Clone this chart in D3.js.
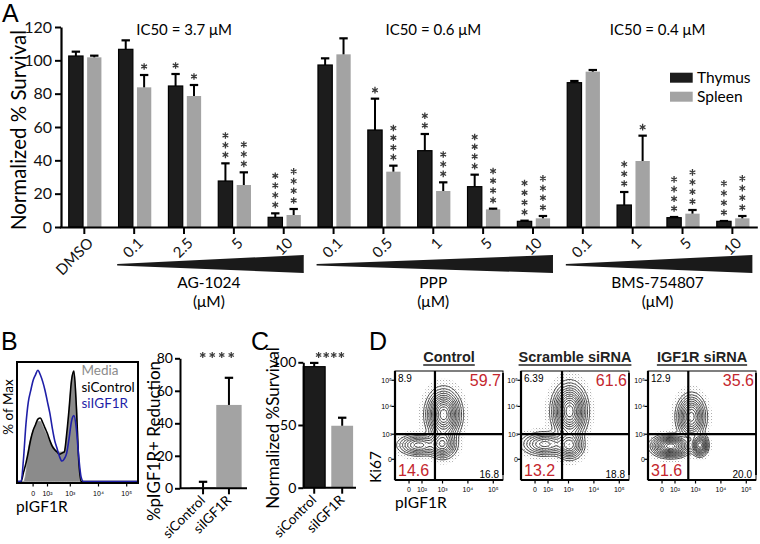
<!DOCTYPE html>
<html><head><meta charset="utf-8">
<script src="https://cdn.jsdelivr.net/npm/d3@7"></script>
<style>
body{margin:0;background:#fff}
svg{display:block}
text{font-family:Lato,'Open Sans',sans-serif}
</style>
</head><body>
<svg id="fig" width="760" height="544" xmlns="http://www.w3.org/2000/svg"></svg>
<script>
// ---------------- Panel A data ----------------
const categories = ["DMSO","AG 0.1","AG 2.5","AG 5","AG 10","PPP 0.1","PPP 0.5","PPP 1","PPP 5","PPP 10","BMS 0.1","BMS 1","BMS 5","BMS 10"];
const tickLabels = ["DMSO","0.1","2.5","5","10","0.1","0.5","1","5","10","0.1","1","5","10"];
const thymus    = [102.6,106.6,84.6,27.6,5.8,97.2,58.2,45.8,24.2,3.4,86.6,13.2,5.6,3.4];
const thymusSem = [2.6,5.4,7.2,10.6,2.4,4.0,18.8,10.0,7.2,0.4,1.0,7.8,0.4,0.2];
const spleen    = [101.8,83.8,78.6,25.2,7.2,103.6,33.2,21.6,10.6,5.2,93.2,39.6,8.0,5.2];
const spleenSem = [1.0,7.4,6.6,7.6,3.6,9.6,3.6,5.2,0.4,1.4,1.0,15.2,2.2,1.4];
const thymusStars = [0,0,1,3,4,0,1,2,4,4,0,3,4,4];
const spleenStars = [0,1,1,3,4,0,4,3,4,4,0,1,4,4];
const seriesNames = ["Thymus","Spleen"];
const yTicksA = [0,20,40,60,80,100,120];
const groupNames = ["AG-1024","PPP","BMS-754807"];
const groupFirst = ["AG 0.1","PPP 0.1","BMS 0.1"];
const groupLast  = ["AG 10","PPP 10","BMS 10"];
const ic50Labels = ["IC50 = 3.7 \u03bcM","IC50 = 0.6 \u03bcM","IC50 = 0.4 \u03bcM"];
const ic50Anchor = [["AG 2.5","AG 2.5"],["PPP 0.5","PPP 5"],["BMS 1","BMS 5"]];

// ---------------- Panel B data ----------------
const histX        = [0,3,5,7,9,11,13,15,17,19,21,23,25,27,29,31,33,35,37,39,41,43,45,47,49,51,53,55,100];
const histMedia    = [0,0,0,8,28,38,45,50,53,53,49,44,40,35,32,29,27,26,26,27,40,64,89,98,70,22,2,0,0];
const histSiCtrl   = [0,0,8,16,26,37,45,50,55,56,52,47,42,36,31,28,26,24,25,26,42,64,89,97,67,19,0,0,0];
const histSiIGF1R  = [0,0,20,50,70,80,89,94,98,94,88,80,70,60,47,36,29,22,18,20,25,38,53,58,47,22,4,0,0];
const histLegend   = ["Media","siControl","siIGF1R"];
const flowTickLabels = ["0","10\u00b2","10\u00b3","10\u2074","10\u2075"];
const flowTickPos    = [13,25,44,67.5,91];
const bCats = ["siControl","siIGF1R"];
const bVals = [0.5,51.3];
const bSem  = [3.5,16.7];
const bTicks = [0,20,40,60,80];
const bStars = 4;

// ---------------- Panel C data ----------------
const cCats = ["siControl","siIGF1R"];
const cVals = [96.5,49.4];
const cSem  = [3.0,6.4];
const cTicks = [0,50,100];
const cStars = 4;

// ---------------- Panel D data ----------------
const dTitles = ["Control","Scramble siRNA","IGF1R siRNA"];
const dQuadUL = ["8.9","6.39","12.9"];
const dQuadUR = ["59.7","61.6","35.6"];
const dQuadLL = ["14.6","13.2","31.6"];
const dQuadLR = ["16.8","18.8","20.0"];
const dGateX = [37,38,37.3];
const dGateY = [42,42,42];
// populations: [centre pIGF1R, centre Ki67, spread x, spread y, weight] (display units 0-100)
const dControlPops  = [[45,60,7,10,1.0],[44,33,6,6,0.55],[22,32,9,4.5,0.4]];
const dScramblePops = [[45,63,7,11,1.0],[45,32,6,6,0.5],[22,33,10,5,0.4]];
const dIGF1RPops    = [[40,58,6,9,0.8],[21,31,8,4.5,1.1],[48,32,3.5,4.5,0.8]];
const dYTickLabels = ["0","10\u00b3","10\u2074","10\u2075"];
const dYTickPos    = [19,42,67.5,91.5];

// ======================================================
const svg = d3.select("#fig");
const ARIAL = "'Liberation Sans',Arial,sans-serif";
const defs = svg.append("defs");
const pat = defs.append("pattern").attr("id","dots").attr("width",3).attr("height",3)
  .attr("patternUnits","userSpaceOnUse");
pat.append("rect").attr("x",0).attr("y",0).attr("width",0.9).attr("height",0.9).attr("fill","#9a9a9a");
pat.append("rect").attr("x",1.5).attr("y",1.5).attr("width",0.7).attr("height",0.7).attr("fill","#c4c4c4");

function panelLetter(t,x,y){
  svg.append("text").attr("x",x).attr("y",y).text(t)
    .style("font-family",ARIAL).style("font-size","25px").attr("fill","#000");
}
function starSym(sz){
  return d3.symbolAsterisk ? d3.symbol(d3.symbolAsterisk,sz||30)() : d3.symbol(d3.symbolCross,sz||30)();
}
function starRow(g,cx,cy,n,sp){
  for(let k=0;k<n;k++){
    g.append("path").attr("d",starSym(26)).attr("transform",`translate(${cx+(k-(n-1)/2)*sp},${cy})`)
      .attr("fill","none").attr("stroke","#3a3a3a").attr("stroke-width",1.2);
  }
}

// ---------------- Panel A ----------------
panelLetter("A",2,22);
const xA = d3.scaleBand().domain(categories).range([59.4,757.3]);
const yA = d3.scaleLinear().domain([0,120]).range([227,27]);
const gA = svg.append("g");
const bwA = 14.3;
const cxA = c => xA(c)+xA.bandwidth()/2;

function drawBar(g,x,w,v,sem,stars,fill,stroke,yS){
  g.append("rect").attr("x",x).attr("y",yS(v)).attr("width",w).attr("height",yS(0)-yS(v))
    .attr("fill",fill).attr("stroke",stroke).attr("stroke-width",stroke==="none"?0:1.2);
  const mx = x+w/2, top = yS(v+sem);
  g.append("line").attr("x1",mx).attr("x2",mx).attr("y1",yS(v)).attr("y2",top).attr("stroke","#000").attr("stroke-width",2);
  g.append("line").attr("x1",mx-4.2).attr("x2",mx+4.2).attr("y1",top).attr("y2",top).attr("stroke","#000").attr("stroke-width",2.2);
  for(let k=0;k<stars;k++){
    g.append("path").attr("d",starSym(30)).attr("transform",`translate(${mx},${top-8.5-k*9.7})`)
      .attr("fill","none").attr("stroke","#3a3a3a").attr("stroke-width",1.3);
  }
}
categories.forEach((c,i)=>{
  const cx = cxA(c);
  drawBar(gA,cx-15.6,bwA,thymus[i],thymusSem[i],thymusStars[i],"#1c1c1c","#000",yA);
  drawBar(gA,cx+2.8,bwA,spleen[i],spleenSem[i],spleenStars[i],"#a3a3a3","none",yA);
});
// axes
const axYA = gA.append("g").attr("transform","translate(61,0)")
  .call(d3.axisLeft(yA).tickValues(yTicksA).tickSize(6).tickSizeOuter(0).tickPadding(3));
axYA.select(".domain").attr("stroke-width",2.2);
axYA.selectAll(".tick line").attr("stroke-width",2);
axYA.selectAll("text").style("font-family","Lato,'Open Sans',sans-serif").style("font-size","16px").attr("fill","#111");
const axXA = gA.append("g").attr("transform","translate(0,227)")
  .call(d3.axisBottom(xA).tickSize(7).tickSizeOuter(0).tickFormat((d,i)=>tickLabels[i]));
axXA.select(".domain").attr("stroke-width",2.2);
axXA.selectAll(".tick line").attr("stroke-width",2);
axXA.selectAll("text").attr("x",0).attr("y",0).attr("dy",0)
  .attr("transform","translate(10,17) rotate(-45)").style("text-anchor","end")
  .style("font-family","Lato,'Open Sans',sans-serif").style("font-size","15px").attr("fill","#111");
// y title
gA.append("text").attr("transform","translate(26,130) rotate(-90)").attr("text-anchor","middle")
  .style("font-size","20.5px").text("Normalized % Survival");
// wedges + group labels
groupNames.forEach((gname,i)=>{
  const x0 = cxA(groupFirst[i])-17, x1 = Math.min(cxA(groupLast[i])+20, 757);
  gA.append("path").attr("d",`M${x0},264 L${x1},255 L${x1},273 L${x0},265.6 Z`).attr("fill","#1a1a1a");
  const mid = (cxA(groupFirst[i])+cxA(groupLast[i]))/2;
  gA.append("text").attr("x",mid).attr("y",288).attr("text-anchor","middle").style("font-size","15.5px").text(gname);
  gA.append("text").attr("x",mid).attr("y",307).attr("text-anchor","middle").style("font-size","15.5px").text("(\u03bcM)");
  const icx = (cxA(ic50Anchor[i][0])+cxA(ic50Anchor[i][1]))/2;
  gA.append("text").attr("x",icx).attr("y",35).attr("text-anchor","middle").style("font-size","15px").text(ic50Labels[i]);
});
// legend
["#1c1c1c","#a3a3a3"].forEach((c,i)=>{
  gA.append("rect").attr("x",670).attr("y",72.7+i*19).attr("width",22.7).attr("height",10).attr("fill",c);
  gA.append("text").attr("x",697).attr("y",82.5+i*19).style("font-size","15.5px").text(seriesNames[i]);
});

// ---------------- Panel B ----------------
panelLetter("B",1,350);
const gB = svg.append("g");
const hx = d3.scaleLinear().domain([0,100]).range([17.5,137.5]);
const hy = d3.scaleLinear().domain([0,100]).range([481.5,368]);
const histPts = arr => histX.map((x,i)=>[x,arr[i]]);
gB.append("path").datum(histPts(histMedia))
  .attr("d",d3.area().x(d=>hx(d[0])).y0(hy(0)).y1(d=>hy(d[1])).curve(d3.curveMonotoneX))
  .attr("fill","#8b8b8b").attr("stroke","#9a9a9a").attr("stroke-width",0.8);
gB.append("path").datum(histPts(histSiCtrl))
  .attr("d",d3.line().x(d=>hx(d[0])).y(d=>hy(d[1])).curve(d3.curveMonotoneX))
  .attr("fill","none").attr("stroke","#000").attr("stroke-width",1.6);
gB.append("path").datum(histPts(histSiIGF1R))
  .attr("d",d3.line().x(d=>hx(d[0])).y(d=>hy(d[1])).curve(d3.curveMonotoneX))
  .attr("fill","none").attr("stroke","#1f1fa8").attr("stroke-width",1.6);
gB.append("rect").attr("x",17).attr("y",362).attr("width",121).attr("height",121)
  .attr("fill","none").attr("stroke","#000").attr("stroke-width",2);
flowTickPos.forEach((p,i)=>{
  gB.append("line").attr("x1",hx(p)).attr("x2",hx(p)).attr("y1",483).attr("y2",486.5).attr("stroke","#000").attr("stroke-width",1.2);
  gB.append("text").attr("x",hx(p)).attr("y",495.5).attr("text-anchor","middle")
    .style("font-family",ARIAL).style("font-size","7px").text(flowTickLabels[i]);
});
const histLegColors = ["#8b8b8b","#000","#1f1fa8"];
histLegend.forEach((t,i)=>{
  gB.append("text").attr("x",81.5).attr("y",375+i*16.5).attr("fill",histLegColors[i]).style("font-size","13.5px").text(t);
});
gB.append("text").attr("transform","translate(13,407) rotate(-90)").attr("text-anchor","middle").style("font-size","13.5px").text("% of Max");
gB.append("text").attr("x",16).attr("y",512).style("font-size","15.5px").text("pIGF1R");

// B bar chart
const xB = d3.scaleBand().domain(bCats).range([180,252]).paddingInner(0.02).paddingOuter(0.4);
const yB = d3.scaleLinear().domain([0,80]).range([488.3,358.3]);
bCats.forEach((c,i)=>{
  drawBar(gB,xB(c),xB.bandwidth(),bVals[i],bSem[i],0,i===0?"#1c1c1c":"#a3a3a3","none",yB);
});
const axYB = gB.append("g").attr("transform","translate(180,0)")
  .call(d3.axisLeft(yB).tickValues(bTicks).tickSize(5).tickSizeOuter(0).tickPadding(2));
axYB.select(".domain").attr("stroke-width",2);
axYB.selectAll(".tick line").attr("stroke-width",2);
axYB.selectAll("text").style("font-family","Lato,sans-serif").style("font-size","14px");
const axXB = gB.append("g").attr("transform","translate(0,488.3)")
  .call(d3.axisBottom(xB).tickSize(6).tickSizeOuter(0));
axXB.select(".domain").attr("d","M180,0H247").attr("stroke-width",2);
axXB.selectAll(".tick line").attr("stroke-width",2);
axXB.selectAll("text").attr("x",0).attr("y",0).attr("dy",0)
  .attr("transform","translate(3,13) rotate(-45)").style("text-anchor","end")
  .style("font-family","Lato,sans-serif").style("font-size","13.5px");
starRow(gB,217,355,bStars,9.5);
gB.append("text").attr("transform","translate(160,441) rotate(-90)").attr("text-anchor","middle").style("font-size","17px").text("%pIGF1R+ Reduction");

// ---------------- Panel C ----------------
panelLetter("C",251,350);
const gC = svg.append("g");
const xC = d3.scaleBand().domain(cCats).range([303.3,353.1]).paddingInner(0.22).paddingOuter(0);
const yC = d3.scaleLinear().domain([0,100]).range([487.7,362.3]);
cCats.forEach((c,i)=>{
  drawBar(gC,xC(c),xC.bandwidth(),cVals[i],cSem[i],0,i===0?"#1c1c1c":"#a3a3a3",i===0?"#000":"none",yC);
});
const axYC = gC.append("g").attr("transform","translate(303.3,0)")
  .call(d3.axisLeft(yC).tickValues(cTicks).tickSize(5).tickSizeOuter(0).tickPadding(2));
axYC.select(".domain").attr("stroke-width",2);
axYC.selectAll(".tick line").attr("stroke-width",2);
axYC.selectAll("text").style("font-family","Lato,sans-serif").style("font-size","14px");
const axXC = gC.append("g").attr("transform","translate(0,487.7)")
  .call(d3.axisBottom(xC).tickSize(6).tickSizeOuter(0));
axXC.select(".domain").attr("d","M303.3,0H356").attr("stroke-width",2);
axXC.selectAll(".tick line").attr("stroke-width",2);
axXC.selectAll("text").attr("x",0).attr("y",0).attr("dy",0)
  .attr("transform","translate(3,13) rotate(-45)").style("text-anchor","end")
  .style("font-family","Lato,sans-serif").style("font-size","13.5px");
starRow(gC,330,355,cStars,7.6);
gC.append("text").attr("transform","translate(279,428) rotate(-90)").attr("text-anchor","middle").style("font-size","17px").text("Normalized %Survival");

// ---------------- Panel D ----------------
panelLetter("D",369,350);
const gD = svg.append("g");
const dLefts = [395,521,648];
const dTop = 371, dW = 108, dH = 109;
const dPops = [dControlPops,dScramblePops,dIGF1RPops];
const N = 100;
const red = "#c4262e";
dLefts.forEach((L,pi)=>{
  const g = gD.append("g").attr("transform",`translate(${L},${dTop})`);
  const xs = d3.scaleLinear().domain([0,100]).range([0,dW]);
  const ys = d3.scaleLinear().domain([0,100]).range([dH,0]);
  const clipId = "clipD"+pi;
  defs.append("clipPath").attr("id",clipId).append("rect").attr("width",dW).attr("height",dH);
  const pops = dPops[pi];
  const vals = new Array(N*N);
  for(let j=0;j<N;j++) for(let i=0;i<N;i++){
    const u = i+0.5, v = 100-(j+0.5);
    let s = 0;
    for(const [cx,cy,sx,sy,w] of pops){ const dx=(u-cx)/sx, dy=(v-cy)/sy; s += w*Math.exp(-0.5*(dx*dx+dy*dy)); }
    vals[j*N+i] = s;
  }
  const mx = d3.max(vals);
  const proj = d3.geoPath(d3.geoTransform({point(x,y){ this.stream.point(xs(x*100/N), ys(100 - y*100/N)); }}));
  const pg = g.append("g").attr("clip-path",`url(#${clipId})`);
  const halo = d3.contours().size([N,N]).thresholds([0.004*mx])(vals);
  pg.selectAll("path.halo").data(halo).join("path").attr("class","halo").attr("d",proj).attr("fill","url(#dots)");
  const lv = [0.03,0.06,0.1,0.15,0.21,0.28,0.36,0.45,0.55,0.66,0.78,0.9].map(f=>f*mx);
  const cs = d3.contours().size([N,N]).thresholds(lv)(vals);
  pg.selectAll("path.ct").data(cs).join("path").attr("class","ct").attr("d",proj)
    .attr("fill","none").attr("stroke","#1a1a1a").attr("stroke-width",0.8);
  // frame
  g.append("rect").attr("width",dW).attr("height",dH).attr("fill","none").attr("stroke","#000").attr("stroke-width",1);
  g.append("line").attr("x1",0).attr("x2",0).attr("y1",0).attr("y2",dH).attr("stroke","#000").attr("stroke-width",2.2);
  g.append("line").attr("x1",0).attr("x2",dW).attr("y1",dH).attr("y2",dH).attr("stroke","#000").attr("stroke-width",2.2);
  g.append("line").attr("x1",dW).attr("x2",dW).attr("y1",2).attr("y2",dH-5).attr("stroke","#000").attr("stroke-width",1.8);
  // gates
  g.append("line").attr("x1",xs(dGateX[pi])).attr("x2",xs(dGateX[pi])).attr("y1",0).attr("y2",dH).attr("stroke","#000").attr("stroke-width",2.2);
  g.append("line").attr("x1",0).attr("x2",dW).attr("y1",ys(dGateY[pi])).attr("y2",ys(dGateY[pi])).attr("stroke","#000").attr("stroke-width",2.2);
  // ticks
  flowTickPos.forEach((p,i)=>{
    g.append("line").attr("x1",xs(p)).attr("x2",xs(p)).attr("y1",dH).attr("y2",dH+3.5).attr("stroke","#000").attr("stroke-width",1.2);
    g.append("text").attr("x",xs(p)).attr("y",dH+12).attr("text-anchor","middle")
      .style("font-family",ARIAL).style("font-size","7px").text(flowTickLabels[i]);
  });
  dYTickPos.forEach((p,i)=>{
    g.append("line").attr("x1",-3.5).attr("x2",0).attr("y1",ys(p)).attr("y2",ys(p)).attr("stroke","#000").attr("stroke-width",1.2);
    g.append("text").attr("x",-3).attr("y",ys(p)+2.5).attr("text-anchor","end")
      .style("font-family",ARIAL).style("font-size","7px").text(dYTickLabels[i]);
  });
  // quadrant numbers
  g.append("text").attr("x",3).attr("y",11).style("font-family",ARIAL).style("font-size","10px").text(dQuadUL[pi]);
  g.append("text").attr("x",dW-2).attr("y",15).attr("text-anchor","end").attr("fill",red).style("font-family",ARIAL).style("font-size","16px").text(dQuadUR[pi]);
  g.append("text").attr("x",3).attr("y",dH-4).attr("fill",red).style("font-family",ARIAL).style("font-size","16px").text(dQuadLL[pi]);
  g.append("text").attr("x",dW-4).attr("y",dH-2).attr("text-anchor","end").style("font-family",ARIAL).style("font-size","10px").text(dQuadLR[pi]);
  // title
  const t = g.append("text").attr("x",dW/2).attr("y",-9).attr("text-anchor","middle")
    .style("font-family",ARIAL).style("font-weight","bold").style("font-size","14.5px").attr("fill","#222").text(dTitles[pi]);
  const tl = t.node().getComputedTextLength();
  g.append("line").attr("x1",dW/2-tl/2).attr("x2",dW/2+tl/2).attr("y1",-6).attr("y2",-6).attr("stroke","#222").attr("stroke-width",1.3);
});
gD.append("text").attr("transform","translate(381,467) rotate(-90)").attr("text-anchor","middle").style("font-size","15.5px").text("Ki67");
gD.append("text").attr("x",395).attr("y",508).style("font-size","15.5px").text("pIGF1R");
</script>
</body></html>
